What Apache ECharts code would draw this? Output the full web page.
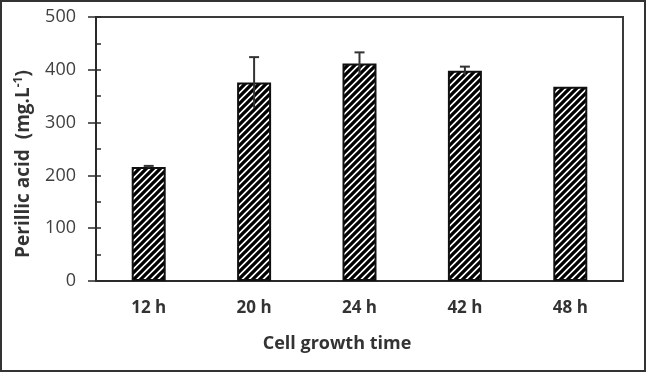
<!DOCTYPE html>
<html>
<head>
<meta charset="utf-8">
<script src="https://cdn.jsdelivr.net/npm/echarts@6/dist/echarts.min.js"></script>
<style>
html,body{margin:0;padding:0;background:#fff;}
#c{width:647px;height:373px;}
</style>
</head>
<body>
<div id="c"></div>
<script>
const categories = ['12 h', '20 h', '24 h', '42 h', '48 h'];
const values = [216, 376, 412, 398, 368];
const errors = [2, 48, 21, 8, 0];
const yTicks = [0, 100, 200, 300, 400, 500];

function hatch() {
  const s = 7;
  const c = document.createElement('canvas');
  c.width = s; c.height = s;
  const ctx = c.getContext('2d');
  ctx.fillStyle = '#fff';
  ctx.fillRect(0, 0, s, s);
  ctx.strokeStyle = '#000';
  ctx.lineWidth = 3.3;
  ctx.beginPath();
  ctx.moveTo(-1, s + 1); ctx.lineTo(s + 1, -1);
  ctx.moveTo(-2, 2); ctx.lineTo(2, -2);
  ctx.moveTo(s - 2, s + 2); ctx.lineTo(s + 2, s - 2);
  ctx.stroke();
  return c;
}

const chart = echarts.init(document.getElementById('c'));
const font = '"Open Sans", "Noto Sans", sans-serif';
chart.setOption({
  animation: false,
  grid: { left: 96, right: 24, top: 17, bottom: 92, show: true, borderColor: '#3a3a3a', borderWidth: 2, backgroundColor: 'transparent' },
  xAxis: {
    type: 'category', data: categories,
    axisLine: { lineStyle: { color: '#2a2a2a', width: 2 } },
    axisTick: { show: false },
    axisLabel: { margin: 19, fontFamily: font, fontSize: 17, fontWeight: 'bold', color: '#333' }
  },
  yAxis: [{
    type: 'value', min: yTicks[0], max: yTicks[yTicks.length - 1], interval: 100,
    axisLine: { show: true, lineStyle: { color: '#2a2a2a', width: 2 } },
    axisTick: { show: true, inside: false, length: 8, lineStyle: { color: '#2a2a2a', width: 1.5 } },
    splitLine: { show: false },
    axisLabel: { margin: 20, fontFamily: font, fontSize: 18, color: '#404040' }
  }, {
    type: 'value', min: 0, max: 500, interval: 50, position: 'left',
    axisLine: { show: false },
    axisTick: { show: true, inside: true, length: 5, lineStyle: { color: '#2a2a2a', width: 1.5 } },
    splitLine: { show: false },
    axisLabel: { show: false }
  }],
  series: [{
    type: 'bar', data: values, barWidth: 34,
    itemStyle: { color: { image: hatch(), repeat: 'repeat' }, borderColor: '#111', borderWidth: 2 }
  }, {
    type: 'custom', z: 5,
    data: values.map((v, i) => [i, v, errors[i]]),
    encode: { x: 0, y: 1 },
    renderItem: function (params, api) {
      const e = api.value(2);
      if (!(e > 0)) return null;
      const x = api.value(0), v = api.value(1);
      const top = api.coord([x, v + e]);
      const bot = api.coord([x, v - e]);
      const st = { stroke: '#333', lineWidth: 2 };
      return {
        type: 'group',
        children: [
          { type: 'line', shape: { x1: top[0], y1: top[1], x2: bot[0], y2: bot[1] }, style: st },
          { type: 'line', shape: { x1: top[0] - 5, y1: top[1], x2: top[0] + 5, y2: top[1] }, style: st }
        ]
      };
    }
  }],
  graphic: [
    { type: 'rect', shape: { x: 1, y: 1, width: 644, height: 370 }, style: { fill: 'none', stroke: '#333', lineWidth: 2 }, silent: true },
    { type: 'text', x: 24, y: 164, rotation: Math.PI / 2,
      style: { text: 'Perillic acid  (mg.L{sup|-1})', x: 0, y: 0, align: 'center', verticalAlign: 'middle',
        font: 'bold 19px ' + font, fill: '#333',
        rich: { sup: { fontSize: 12, fontWeight: 'bold', fontFamily: font, fill: '#333', padding: [0, 0, 10, 0] } } } },
    { type: 'text', x: 337, y: 344,
      style: { text: 'Cell growth time', align: 'center', verticalAlign: 'middle', font: 'bold 18px ' + font, fill: '#333' } }
  ]
});
</script>
</body>
</html>
